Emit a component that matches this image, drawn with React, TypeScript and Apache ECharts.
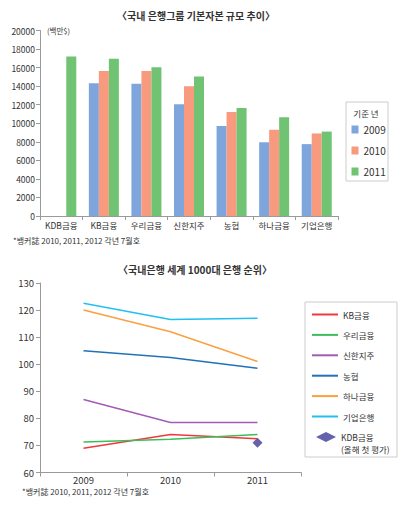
import React, { useEffect, useRef } from "react";
import * as echarts from "echarts";

const barCategories = ["KDB금융", "KB금융", "우리금융", "신한지주", "농협", "하나금융", "기업은행"];
const capital2009 = [null, 14300, 14250, 12050, 9700, 7950, 7750];
const capital2010 = [null, 15620, 15620, 14000, 11200, 9300, 8900];
const capital2011 = [17200, 16950, 16050, 15050, 11650, 10650, 9100];
const capitalTicks = { min: 0, max: 20000, interval: 2000 };

const rankYears = ["2009", "2010", "2011"];
const rankKB = [69, 74, 72.5];
const rankWoori = [71.3, 72.3, 74];
const rankShinhan = [87, 78.5, 78.5];
const rankNH = [105, 102.5, 98.5];
const rankHana = [120, 112, 101];
const rankIBK = [122.5, 116.5, 117];
const rankKDB = [null, null, 71];
const rankTicks = { min: 60, max: 130, interval: 10 };

const FONT = "'Noto Sans CJK KR', 'Noto Sans', sans-serif";
const TXT = "#333333";
const AXIS = "#9a9a9a";

export default function App() {
  const ref = useRef<HTMLDivElement>(null);
  useEffect(() => {
    if (!ref.current) return;
    const chart = echarts.init(ref.current, null, { renderer: "svg" });
    const barColors = ["#7fa6dc", "#f79a7d", "#6fc372"];
    const lineDefs = [
      { name: "KB금융", data: rankKB, color: "#f1373c" },
      { name: "우리금융", data: rankWoori, color: "#3dbd5b" },
      { name: "신한지주", data: rankShinhan, color: "#a35bb4" },
      { name: "농협", data: rankNH, color: "#2371b9" },
      { name: "하나금융", data: rankHana, color: "#fba040" },
      { name: "기업은행", data: rankIBK, color: "#22c0f0" },
    ];
    const axisLineStyle = { lineStyle: { color: AXIS, width: 1 } };
    chart.setOption({
      animation: false,
      backgroundColor: "#ffffff",
      textStyle: { fontFamily: FONT },
      grid: [
        { left: 40, top: 30.5, width: 298, height: 185.5 },
        { left: 40, top: 283, width: 261, height: 189.5 },
      ],
      xAxis: [
        {
          type: "category",
          gridIndex: 0,
          data: barCategories,
          boundaryGap: true,
          axisLine: axisLineStyle,
          axisTick: { show: true, length: 4, lineStyle: { color: AXIS } },
          axisLabel: { interval: 0, margin: 5, fontSize: 8.5, color: TXT, fontFamily: FONT },
        },
        {
          type: "category",
          gridIndex: 1,
          data: rankYears,
          boundaryGap: true,
          axisLine: axisLineStyle,
          axisTick: { show: true, length: 4, lineStyle: { color: AXIS } },
          axisLabel: { interval: 0, margin: 3, fontSize: 9.5, color: TXT, fontFamily: FONT },
        },
      ],
      yAxis: [
        {
          type: "value",
          gridIndex: 0,
          min: capitalTicks.min,
          max: capitalTicks.max,
          interval: capitalTicks.interval,
          axisLine: { show: true, ...axisLineStyle },
          axisTick: { show: true, length: 4, lineStyle: { color: AXIS } },
          splitLine: { show: false },
          axisLabel: {
            margin: 5,
            fontSize: 8.5,
            color: TXT,
            fontFamily: FONT,
            formatter: (v: number) => String(v),
          },
        },
        {
          type: "value",
          gridIndex: 1,
          min: rankTicks.min,
          max: rankTicks.max,
          interval: rankTicks.interval,
          axisLine: { show: true, ...axisLineStyle },
          axisTick: { show: true, length: 4, lineStyle: { color: AXIS } },
          splitLine: { show: false },
          axisLabel: {
            margin: 6,
            fontSize: 9.5,
            color: TXT,
            fontFamily: FONT,
            formatter: (v: number) => String(v),
          },
        },
      ],
      legend: [
        {
          data: ["2009", "2010", "2011"],
          orient: "vertical",
          left: 351.5,
          top: 123.5,
          padding: 0,
          itemWidth: 7,
          itemHeight: 8,
          itemGap: 9,
          icon: "rect",
          textStyle: { fontSize: 10, lineHeight: 12, color: TXT, fontFamily: FONT },
        },
        {
          data: lineDefs.map((d) => d.name),
          orient: "vertical",
          left: 312,
          top: 308.5,
          padding: 0,
          itemWidth: 26,
          itemHeight: 2,
          itemGap: 8.4,
          icon: "rect",
          textStyle: { fontSize: 8.5, lineHeight: 12, color: TXT, fontFamily: FONT },
        },
        {
          data: ["KDB금융"],
          orient: "vertical",
          left: 316,
          top: 431,
          padding: 0,
          itemWidth: 20,
          itemHeight: 10,
          icon: "diamond",
          textStyle: { fontSize: 8.5, lineHeight: 12, color: TXT, fontFamily: FONT },
        },
      ],
      series: [
        ...[capital2009, capital2010, capital2011].map((d, i) => ({
          name: ["2009", "2010", "2011"][i],
          type: "bar",
          xAxisIndex: 0,
          yAxisIndex: 0,
          data: d,
          barWidth: 10,
          barGap: "0%",
          itemStyle: { color: barColors[i] },
        })),
        ...lineDefs.map((d) => ({
          name: d.name,
          type: "line",
          xAxisIndex: 1,
          yAxisIndex: 1,
          data: d.data,
          symbol: "none",
          lineStyle: { color: d.color, width: 1.5 },
          itemStyle: { color: d.color },
        })),
        {
          name: "KDB금융",
          type: "scatter",
          xAxisIndex: 1,
          yAxisIndex: 1,
          data: rankKDB,
          symbol: "diamond",
          symbolSize: 10,
          itemStyle: { color: "#3e3b98" },
        },
      ],
      graphic: [
        {
          type: "text",
          x: 196,
          y: 15,
          style: {
            text: "〈국내 은행그룹 기본자본 규모 추이〉",
            fontSize: 10,
            fontWeight: "bold",
            fill: TXT,
            fontFamily: FONT,
            textAlign: "center",
            textVerticalAlign: "middle",
          },
        },
        {
          type: "text",
          x: 47,
          y: 30,
          style: { text: "(백만$)", fontSize: 7.5, fill: TXT, fontFamily: FONT, textVerticalAlign: "middle" },
        },
        {
          type: "text",
          x: 13,
          y: 240,
          style: {
            text: "*뱅커誌 2010, 2011, 2012 각년 7월호",
            fontSize: 8,
            fill: TXT,
            fontFamily: FONT,
            textVerticalAlign: "middle",
          },
        },
        {
          type: "rect",
          shape: { x: 346, y: 102, width: 42, height: 79 },
          style: { fill: "none", stroke: "#cccccc", lineWidth: 1 },
        },
        {
          type: "text",
          x: 366,
          y: 112.5,
          style: {
            text: "기준 년",
            fontSize: 8.5,
            fill: TXT,
            fontFamily: FONT,
            textAlign: "center",
            textVerticalAlign: "middle",
          },
        },
        {
          type: "text",
          x: 195,
          y: 269,
          style: {
            text: "〈국내은행 세계 1000대 은행 순위〉",
            fontSize: 10,
            fontWeight: "bold",
            fill: TXT,
            fontFamily: FONT,
            textAlign: "center",
            textVerticalAlign: "middle",
          },
        },
        {
          type: "rect",
          shape: { x: 305, y: 302, width: 92, height: 155 },
          style: { fill: "none", stroke: "#cccccc", lineWidth: 1 },
        },
        {
          type: "text",
          x: 341,
          y: 448.5,
          style: {
            text: "(올해 첫 평가)",
            fontSize: 8.5,
            fill: TXT,
            fontFamily: FONT,
            textVerticalAlign: "middle",
          },
        },
        {
          type: "text",
          x: 22,
          y: 491.5,
          style: {
            text: "*뱅커誌 2010, 2011, 2012 각년 7월호",
            fontSize: 8,
            fill: TXT,
            fontFamily: FONT,
            textVerticalAlign: "middle",
          },
        },
      ],
    });
    return () => chart.dispose();
  }, []);
  return (
    <div
      ref={ref}
      style={{ position: "absolute", left: 0, top: 0, width: 410, height: 506, background: "#fff" }}
    />
  );
}
